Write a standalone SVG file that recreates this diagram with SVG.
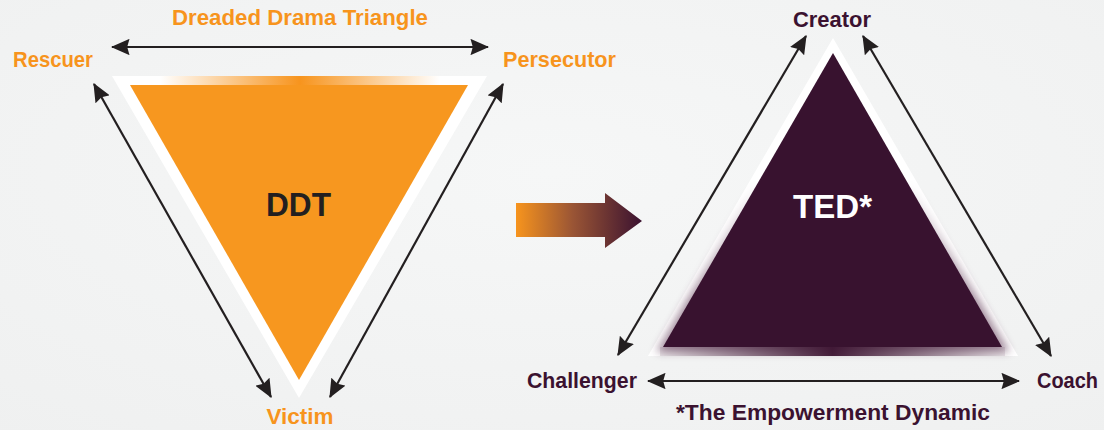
<svg xmlns="http://www.w3.org/2000/svg" width="1104" height="430" viewBox="0 0 1104 430">
  <defs>
    <style>
      .lbl { font-family: "Liberation Sans", Arial, sans-serif; font-weight: bold; font-size: 21.5px; }
      .big { font-size: 34px; }
      .orange { fill: #F7941D; }
      .plum { fill: #3B1230; }
      .conn { stroke: #231F20; stroke-width: 2.2; fill: none; marker-start: url(#head); marker-end: url(#head); }
    </style>
    <marker id="head" viewBox="0 0 16 14" refX="15" refY="7" markerWidth="8.5" markerHeight="7.5" markerUnits="strokeWidth" orient="auto-start-reverse">
      <path d="M0,0 L16,7 L0,14 L2,7 Z" fill="#231F20"/>
    </marker>
    <radialGradient id="bg" cx="0.5" cy="0.4" r="0.8">
      <stop offset="0" stop-color="#F6F7F7"/>
      <stop offset="1" stop-color="#EFF0F0"/>
    </radialGradient>
    <linearGradient id="topGlow" x1="0" y1="0" x2="1" y2="0">
      <stop offset="0" stop-color="#F7941D" stop-opacity="0"/>
      <stop offset="0.5" stop-color="#F7941D" stop-opacity="1"/>
      <stop offset="1" stop-color="#F7941D" stop-opacity="0"/>
    </linearGradient>
    <linearGradient id="shift" x1="0" y1="0" x2="1" y2="0">
      <stop offset="0" stop-color="#F7941D"/>
      <stop offset="0.45" stop-color="#9A5535"/>
      <stop offset="1" stop-color="#3B1230"/>
    </linearGradient>
    <linearGradient id="fadeIn" gradientUnits="userSpaceOnUse" x1="0" y1="180" x2="0" y2="300">
      <stop offset="0" stop-color="#fff" stop-opacity="0"/>
      <stop offset="1" stop-color="#fff" stop-opacity="1"/>
    </linearGradient>
    <linearGradient id="baseGlow" x1="0" y1="0" x2="1" y2="0">
      <stop offset="0" stop-color="#3B1230" stop-opacity="0.1"/>
      <stop offset="0.5" stop-color="#3B1230" stop-opacity="0.95"/>
      <stop offset="1" stop-color="#3B1230" stop-opacity="0.1"/>
    </linearGradient>
    <mask id="lowerHalf">
      <rect x="600" y="0" width="480" height="430" fill="url(#fadeIn)"/>
    </mask>
    <filter id="soft" x="-10%" y="-10%" width="120%" height="120%">
      <feGaussianBlur stdDeviation="4"/>
    </filter>
  </defs>

  <rect width="1104" height="430" fill="url(#bg)"/>

  <!-- Dreaded Drama Triangle -->
  <g id="ddt">
    <polygon points="112,76 487,76 299,398" fill="#FFFFFF"/>
    <rect x="160" y="76" width="280" height="9" fill="url(#topGlow)"/>
    <polygon points="130,85 468,85 299,380" fill="#F7971F"/>
    <text x="298.5" y="216" text-anchor="middle" class="lbl big" fill="#231F20" textLength="65" lengthAdjust="spacingAndGlyphs">DDT</text>
  </g>
  <g id="ddt-title"><text x="300" y="25" text-anchor="middle" class="lbl orange" textLength="256" lengthAdjust="spacingAndGlyphs">Dreaded Drama Triangle</text></g>
  <g id="rescuer"><text x="13" y="67" class="lbl orange" textLength="80" lengthAdjust="spacingAndGlyphs">Rescuer</text></g>
  <g id="persecutor"><text x="503" y="67" class="lbl orange" textLength="113" lengthAdjust="spacingAndGlyphs">Persecutor</text></g>
  <g id="victim"><text x="300" y="424" text-anchor="middle" class="lbl orange" textLength="67" lengthAdjust="spacingAndGlyphs">Victim</text></g>

  <!-- shift arrow between the two triangles -->
  <g id="shift-arrow">
    <path d="M516,203 H605 V193 L642,221 L605,248 V237 H516 Z" fill="url(#shift)"/>
  </g>

  <!-- The Empowerment Dynamic -->
  <g id="ted">
    <polygon points="833,38 648,356 1018,356" fill="#FFFFFF"/>
    <g mask="url(#lowerHalf)">
      <polygon points="833,50 656,352 1010,352" fill="#5A3150" opacity="0.55" filter="url(#soft)"/>
    </g>
    <rect x="660" y="347" width="345" height="9" fill="url(#baseGlow)"/>
    <polygon points="833,53 663,347 1002,347" fill="#38122F"/>
    <text x="832.5" y="218" text-anchor="middle" class="lbl big" fill="#FFFFFF" textLength="79" lengthAdjust="spacingAndGlyphs">TED*</text>
  </g>
  <g id="creator"><text x="832" y="27" text-anchor="middle" class="lbl plum" textLength="78" lengthAdjust="spacingAndGlyphs">Creator</text></g>
  <g id="challenger"><text x="527" y="388" class="lbl plum" textLength="110" lengthAdjust="spacingAndGlyphs">Challenger</text></g>
  <g id="coach"><text x="1037" y="388" class="lbl plum" textLength="61" lengthAdjust="spacingAndGlyphs">Coach</text></g>
  <g id="ted-title"><text x="833" y="420" text-anchor="middle" class="lbl plum" textLength="314" lengthAdjust="spacingAndGlyphs">*The Empowerment Dynamic</text></g>

  <!-- connectors -->
  <g id="connectors">
    <line class="conn" x1="112" y1="47" x2="488" y2="47"/>
    <line class="conn" x1="94" y1="84" x2="271" y2="397"/>
    <line class="conn" x1="503" y1="84" x2="330" y2="397"/>
    <line class="conn" x1="618" y1="355" x2="806" y2="36"/>
    <line class="conn" x1="863" y1="36" x2="1051" y2="356"/>
    <line class="conn" x1="648" y1="381" x2="1019" y2="381"/>
  </g>
</svg>
